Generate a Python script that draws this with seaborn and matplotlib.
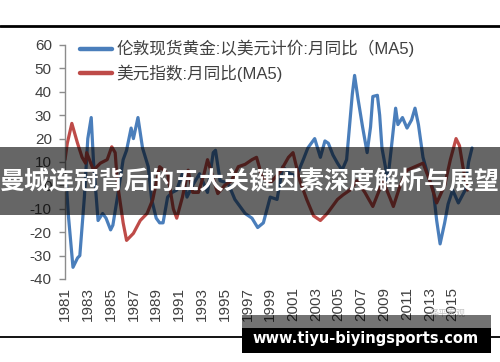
import numpy as np
import pandas as pd
import matplotlib
matplotlib.use("Agg")
import matplotlib.pyplot as plt
from matplotlib.patches import Rectangle
from matplotlib.lines import Line2D
import seaborn as sns

## values (year, % yoy MA5)
gold_years = [1981.1, 1981.3, 1981.7, 1982.1, 1982.3, 1982.7, 1983.0, 1983.3, 1983.5, 1983.9,
              1984.3, 1984.6, 1985.0, 1985.2, 1985.6, 1986.1, 1986.4, 1986.8, 1987.0, 1987.4,
              1987.8, 1988.3, 1988.6, 1989.0, 1989.3, 1989.6, 1990.0, 1990.4, 1990.8, 1991.3,
              1991.7, 1992.2, 1992.8, 1993.5, 1994.0, 1994.2, 1994.6, 1995.3, 1995.9, 1996.8,
              1997.4, 1997.9, 1998.4, 1999.0, 1999.6, 2000.1, 2000.7, 2001.3, 2001.9, 2002.3,
              2002.9, 2003.4, 2003.8, 2004.1, 2004.5, 2004.9, 2005.3, 2005.7, 2006.2, 2006.4,
              2006.7, 2007.1, 2007.5, 2007.8, 2008.0, 2008.4, 2008.6, 2008.8, 2009.1, 2009.3,
              2009.6, 2010.0, 2010.2, 2010.6, 2011.0, 2011.4, 2011.7, 2012.0, 2012.4, 2012.8,
              2013.3, 2013.6, 2013.9, 2014.3, 2014.6, 2015.0, 2015.5, 2016.1, 2016.4, 2016.7]
gold_values = [2, -13, -35, -31, -30, -5, 20, 29, 10, -15,
               -12, -14, -19, -17, -5, 11, 15, 24.5, 20, 29,
               16, 8, -6, -14, -16, -16, -5, -3, -2, 5,
               -5, 0, 5, -3, 14, 15, 2, 1, -6, -12,
               -14, -18, -16, -5, -6, 8, 5, 4, 11, 16,
               20, 12, 19, 18, 13, 9.5, 6.5, 11, 39, 47,
               37, 25, 14, 25, 38, 38.5, 30, 16, 8, 2,
               15, 33, 26, 29, 24.5, 28, 33, 26, 12, 5,
               -2, -15, -25, -16, -8, -2, -7.5, -2, 10, 16]

usd_years = [1981.0, 1981.2, 1981.6, 1982.1, 1982.5, 1982.8, 1982.9, 1983.5, 1984.1, 1984.7,
             1985.1, 1985.4, 1985.6, 1986.1, 1986.4, 1987.0, 1987.6, 1988.2, 1988.7, 1989.3,
             1990.0, 1990.5, 1990.8, 1991.3, 1991.8, 1992.2, 1992.7, 1993.2, 1993.5, 1994.0,
             1994.4, 1995.0, 1995.6, 1996.2, 1996.8, 1997.4, 1997.8, 1998.3, 1999.0, 1999.9,
             2000.6, 2001.0, 2001.6, 2002.2, 2002.8, 2003.4, 2004.0, 2004.9, 2005.4, 2006.0,
             2006.6, 2007.3, 2008.0, 2008.9, 2009.8, 2010.4, 2011.0, 2011.7, 2012.4, 2013.0,
             2013.6, 2014.3, 2014.8, 2015.3, 2015.6, 2015.9, 2016.3]
usd_values = [11, 18, 26.5, 18, 12, 9.5, 14, 6.5, 9.5, 11,
              16.5, 14, 1, -16, -23.5, -20.5, -15, -12, -6, 8,
              5, -10, -14, -5, 6.5, -3, -3, 5, 11, 3,
              -3.5, 0, 2, 8, 9, 11, 12, 3.5, 1, 6,
              12, 14, 2, -6, -13, -15, -12, -6, -4, -2,
              2, -3, -9, 2, -9, 0, 6.5, 8, 9.5, 2,
              -7.5, 0, 11, 20, 17, 8, -2]

gold_label = "伦敦现货黄金:以美元计价:月同比（MA5)"
usd_label = "美元指数:月同比(MA5)"
year_ticks = list(range(1981, 2016, 2))
y_ticks = list(range(-40, 61, 10))

sns.set_style("white")
plt.rcParams['font.family'] = ['Liberation Sans', 'Noto Sans CJK SC', 'DejaVu Sans']

df = pd.concat([
    pd.DataFrame({"year": gold_years, "value": gold_values, "series": gold_label}),
    pd.DataFrame({"year": usd_years, "value": usd_values, "series": usd_label}),
])
colors = {gold_label: "#4a7ebb", usd_label: "#be4b48"}

fig = plt.figure(figsize=(5, 3.62), dpi=100)
fig.patch.set_facecolor("white")
ax = fig.add_axes([0.13, 1 - 279 / 362, 0.83, 234 / 362])

sns.lineplot(data=df, x="year", y="value", hue="series", palette=colors,
             linewidth=2.3, sort=False, estimator=None, ax=ax, legend=False)

ax.set_xlim(1981.0, 2017.4)
ax.set_ylim(-40, 60)
ax.set_xlabel("")
ax.set_ylabel("")
for s in ["top", "right", "bottom"]:
    ax.spines[s].set_visible(False)
ax.spines["left"].set_color("#8c8c8c")
ax.spines["left"].set_linewidth(1)
ax.set_yticks(y_ticks)
ax.set_yticklabels([str(v) for v in y_ticks])
ax.tick_params(axis="y", length=4, width=1, color="#8c8c8c", labelsize=11,
               labelcolor="#404040", pad=5.5, left=True)
ax.set_xticks(year_ticks)
ax.set_xticklabels([str(v) for v in year_ticks], rotation=90)
ax.tick_params(axis="x", length=0, labelsize=11, labelcolor="#404040", pad=6)
ax.grid(False)

handles = [Line2D([], [], color=colors[gold_label], lw=3.2),
           Line2D([], [], color=colors[usd_label], lw=3.2)]
fig.legend(handles, [gold_label, usd_label], loc="upper left",
           bbox_to_anchor=(0.16, 1 - 40 / 362), frameon=False, fontsize=12,
           handlelength=1.9, handletextpad=0.3, labelspacing=0.45,
           borderpad=0, borderaxespad=0, labelcolor="#404040")

# horizontal rules of the screenshot
fig.add_artist(Line2D([0, 1], [1 - 26 / 362] * 2, color="black", lw=2, transform=fig.transFigure))
fig.add_artist(Line2D([0, 1], [1 - 337 / 362] * 2, color="black", lw=1.3, transform=fig.transFigure))

# title band overlay
fig.add_artist(Rectangle((0, 1 - 215 / 362), 1, 68 / 362, transform=fig.transFigure,
                         facecolor="black", alpha=0.6, edgecolor="none", zorder=10))
fig.text(0.5, 1 - 182 / 362, "曼城连冠背后的五大关键因素深度解析与展望", color="white",
         fontsize=18, fontweight="bold", ha="center", va="center",
         family=["Noto Sans CJK SC", "DejaVu Sans"], zorder=11)

# bottom watermark
fig.text(0.895, 1 - 313 / 362, "泽平宏观", color="#c4c4c4", fontsize=6.5, ha="center",
         va="center", family=["Noto Sans CJK SC"], zorder=9)
fig.add_artist(Rectangle((242 / 500, 1 - 328 / 362), 249 / 500, 13 / 362, transform=fig.transFigure,
                         facecolor="black", alpha=0.55, edgecolor="none", zorder=10))
fig.add_artist(Rectangle((242 / 500, 1 - 353 / 362), 249 / 500, 25 / 362, transform=fig.transFigure,
                         facecolor="black", edgecolor="none", zorder=10))
fig.text(366 / 500, 1 - 339 / 362, "www.tiyu-biyingsports.com", color="white", fontsize=10.5,
         fontweight="bold", ha="center", va="center", family=["DejaVu Sans"], zorder=11)

fig.savefig("out.png", dpi=100)
